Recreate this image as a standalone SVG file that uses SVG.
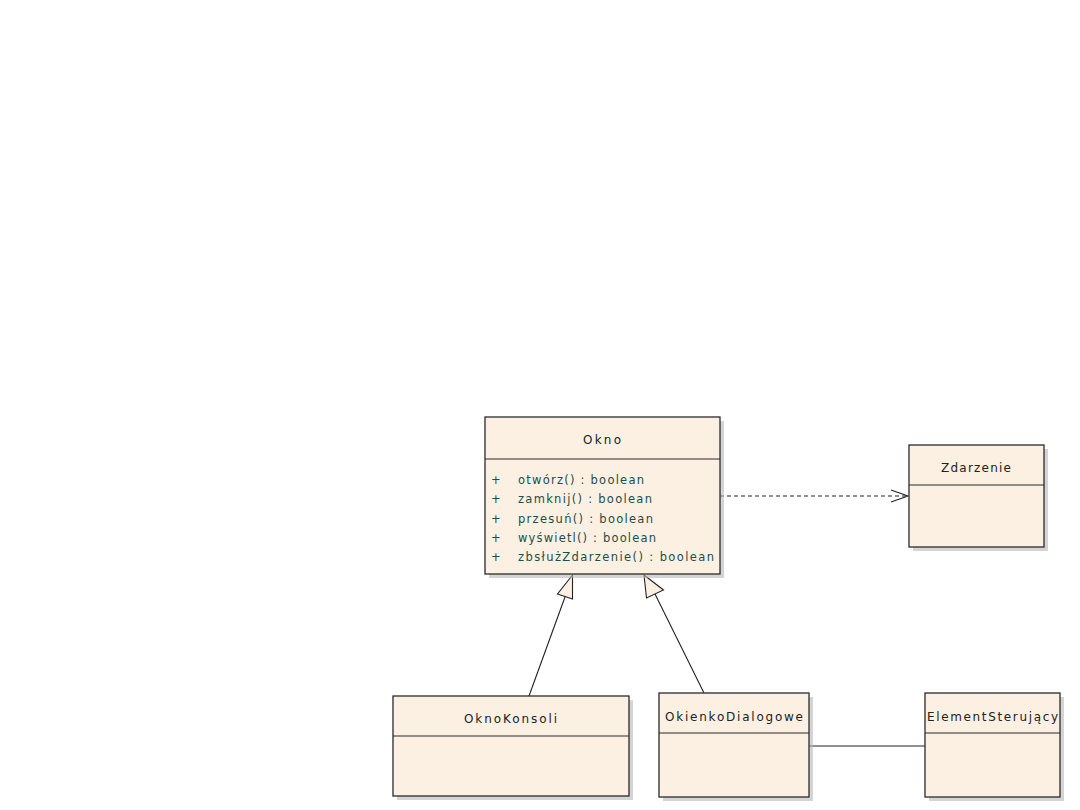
<svg xmlns="http://www.w3.org/2000/svg" width="1080" height="810" viewBox="0 0 1080 810">
<style>
.box{fill:#fbf0e1;stroke:#2a2a2a;stroke-width:1.3}
.sh{fill:#b8b8b8;opacity:0.6}
.div{stroke:#2a2a2a;stroke-width:1.2}
.name{font-family:"DejaVu Sans",sans-serif;font-size:12px;fill:#222;text-anchor:middle}
.op{font-family:"DejaVu Sans",sans-serif;font-size:11.5px;fill:#1e4d4a}
.ln{stroke:#222;stroke-width:1.1;fill:none}
</style>
<defs>
<marker id="open" markerWidth="20" markerHeight="14" refX="18" refY="7" orient="auto" markerUnits="userSpaceOnUse">
<path d="M1,1 L18,7 L1,13" fill="none" stroke="#222" stroke-width="1.1"/>
</marker>
</defs>
<rect width="1080" height="810" fill="#fff"/>
<g id="connectors">
<line class="ln" x1="720" y1="496" x2="908" y2="496" stroke-dasharray="4,3" marker-end="url(#open)"/>
<line class="ln" x1="529" y1="696" x2="565" y2="597"/>
<polygon points="572.5,575 557.5,594 572.5,599" fill="#fbf0e1" stroke="#222" stroke-width="1.1"/>
<line class="ln" x1="704" y1="693" x2="655" y2="594"/>
<polygon points="644,575 663.5,590 646.5,598" fill="#fbf0e1" stroke="#222" stroke-width="1.1"/>
<line class="ln" x1="809" y1="746" x2="925" y2="746"/>
</g>
<g id="Okno">
<rect class="sh" x="489" y="421" width="235" height="157"/>
<rect class="box" x="485" y="417" width="235" height="157"/>
<line class="div" x1="485" y1="459" x2="720" y2="459"/>
<text class="name" x="602" y="444" textLength="38" lengthAdjust="spacing">Okno</text>
<text class="op" x="491" y="484">+</text><text class="op" x="518" y="484" textLength="126" lengthAdjust="spacing">otwórz() : boolean</text>
<text class="op" x="491" y="503">+</text><text class="op" x="518" y="503" textLength="134" lengthAdjust="spacing">zamknij() : boolean</text>
<text class="op" x="491" y="523">+</text><text class="op" x="518" y="523" textLength="135" lengthAdjust="spacing">przesuń() : boolean</text>
<text class="op" x="491" y="542">+</text><text class="op" x="518" y="542" textLength="138" lengthAdjust="spacing">wyświetl() : boolean</text>
<text class="op" x="491" y="561">+</text><text class="op" x="518" y="561" textLength="196" lengthAdjust="spacing">zbsłużZdarzenie() : boolean</text>
</g>
<g id="Zdarzenie">
<rect class="sh" x="913" y="449" width="135" height="102"/>
<rect class="box" x="909" y="445" width="135" height="102"/>
<line class="div" x1="909" y1="485" x2="1044" y2="485"/>
<text class="name" x="976" y="472" textLength="70" lengthAdjust="spacing">Zdarzenie</text>
</g>
<g id="OknoKonsoli">
<rect class="sh" x="397" y="700" width="236" height="100"/>
<rect class="box" x="393" y="696" width="236" height="100"/>
<line class="div" x1="393" y1="736" x2="629" y2="736"/>
<text class="name" x="510.5" y="723" textLength="93" lengthAdjust="spacing">OknoKonsoli</text>
</g>
<g id="OkienkoDialogowe">
<rect class="sh" x="663" y="697" width="150" height="104"/>
<rect class="box" x="659" y="693" width="150" height="104"/>
<line class="div" x1="659" y1="733" x2="809" y2="733"/>
<text class="name" x="734" y="721" textLength="138" lengthAdjust="spacing">OkienkoDialogowe</text>
</g>
<g id="ElementSterujacy">
<rect class="sh" x="929" y="697" width="135" height="104"/>
<rect class="box" x="925" y="693" width="135" height="104"/>
<line class="div" x1="925" y1="733" x2="1060" y2="733"/>
<text class="name" x="992.5" y="721" textLength="131" lengthAdjust="spacing">ElementSterujący</text>
</g>
</svg>
